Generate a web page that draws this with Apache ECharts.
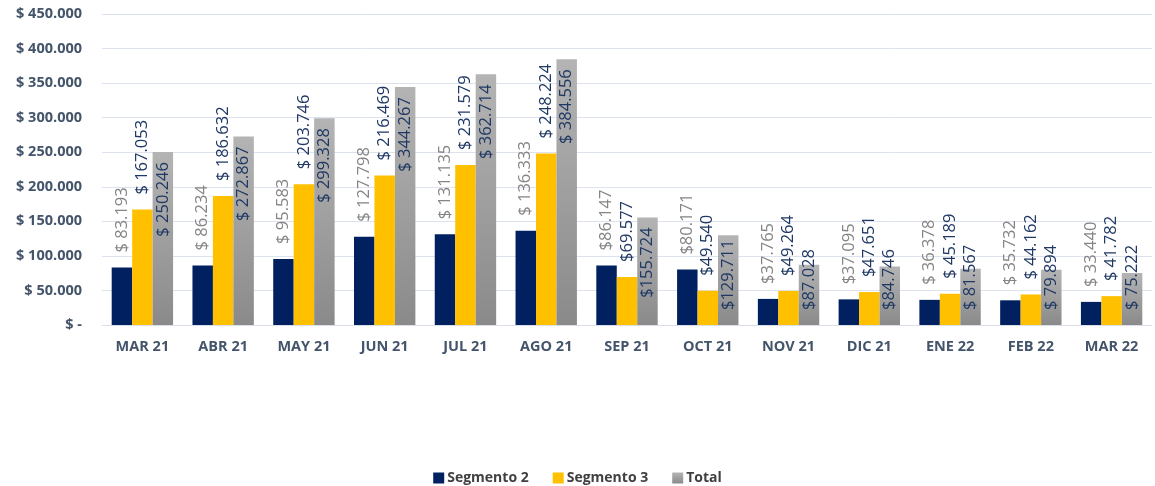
<!DOCTYPE html>
<html><head><meta charset="utf-8">
<script src="https://cdn.jsdelivr.net/npm/echarts@6/dist/echarts.min.js"></script>
<style>html,body{margin:0;padding:0;background:#fff}#c{width:1155px;height:486px}</style>
</head><body><div id="c"></div>
<script>
const categories = ['MAR 21','ABR 21','MAY 21','JUN 21','JUL 21','AGO 21','SEP 21','OCT 21','NOV 21','DIC 21','ENE 22','FEB 22','MAR 22'];
const segmento2 = [83193, 86234, 95583, 127798, 131135, 136333, 86147, 80171, 37765, 37095, 36378, 35732, 33440];
const segmento3 = [167053, 186632, 203746, 216469, 231579, 248224, 69577, 49540, 49264, 47651, 45189, 44162, 41782];
const total = [250246, 272867, 299328, 344267, 362714, 384556, 155724, 129711, 87028, 84746, 81567, 79894, 75222];
const noSpaceCats = ['SEP 21','OCT 21','NOV 21','DIC 21'];
const yTicks = [0, 50000, 100000, 150000, 200000, 250000, 300000, 350000, 400000, 450000];

function fmt(v){ return String(v).replace(/\B(?=(\d{3})+(?!\d))/g, '.'); }
function money(p){ const sp = noSpaceCats.includes(p.name) ? '' : ' '; return '$' + sp + fmt(p.value); }

const FONT = '"Open Sans", "Noto Sans", sans-serif';
const LBL = 16.5;
const chart = echarts.init(document.getElementById('c'));
chart.setOption({
  animation:false,
  textStyle:{fontFamily:FONT},
  grid:{left:102, right:3, top:14, bottom:161},
  legend:{top:466, left:'center', itemWidth:11, itemHeight:11, itemGap:24, icon:'rect',
    textStyle:{fontWeight:'bold', fontSize:14, color:'#404040', fontFamily:FONT, padding:[0,0,0,-2]},
    data:['Segmento 2','Segmento 3','Total']},
  xAxis:{type:'category', data:categories,
    axisLine:{lineStyle:{color:'#d9dee8'}}, axisTick:{show:false},
    axisLabel:{fontWeight:'bold', fontSize:14.5, color:'#44546a', margin:14, fontFamily:FONT}},
  yAxis:{type:'value', min:yTicks[0], max:yTicks[yTicks.length-1], interval:50000,
    axisLine:{show:false}, axisTick:{show:false},
    splitLine:{lineStyle:{color:'#dde3ee'}},
    axisLabel:{fontWeight:'bold', fontSize:14.5, color:'#44546a', margin:20, fontFamily:FONT,
      formatter:v => v===0 ? '$ -' : '$ ' + fmt(v)}},
  series:[
    {name:'Segmento 2', type:'bar', data:segmento2, barGap:'0%', barCategoryGap:'24%',
      itemStyle:{color:'#002060'},
      label:{show:true, position:'top', rotate:90, align:'left', verticalAlign:'middle', distance:15,
        fontSize:LBL, color:'#858585', fontFamily:FONT, formatter:money}},
    {name:'Segmento 3', type:'bar', data:segmento3,
      itemStyle:{color:'#ffc000'},
      label:{show:true, position:'top', rotate:90, align:'left', verticalAlign:'middle', distance:15,
        fontSize:LBL, color:'#1f3864', fontFamily:FONT, formatter:money}},
    {name:'Total', type:'bar', data:total,
      itemStyle:{color:new echarts.graphic.LinearGradient(0,0,0,1,[{offset:0,color:'#b4b4b4'},{offset:1,color:'#8a8a8a'}])},
      label:{show:true, position:'insideTop', rotate:90, align:'right', verticalAlign:'middle', distance:10,
        fontSize:LBL, color:'#1f3864', fontFamily:FONT, formatter:money},
      labelLayout:function(p){
        const base = p.rect.y + p.rect.height;
        const top = Math.min(p.rect.y + 10, base - 15 - p.labelRect.height);
        return {y: top};
      }}
  ]
});
</script></body></html>
